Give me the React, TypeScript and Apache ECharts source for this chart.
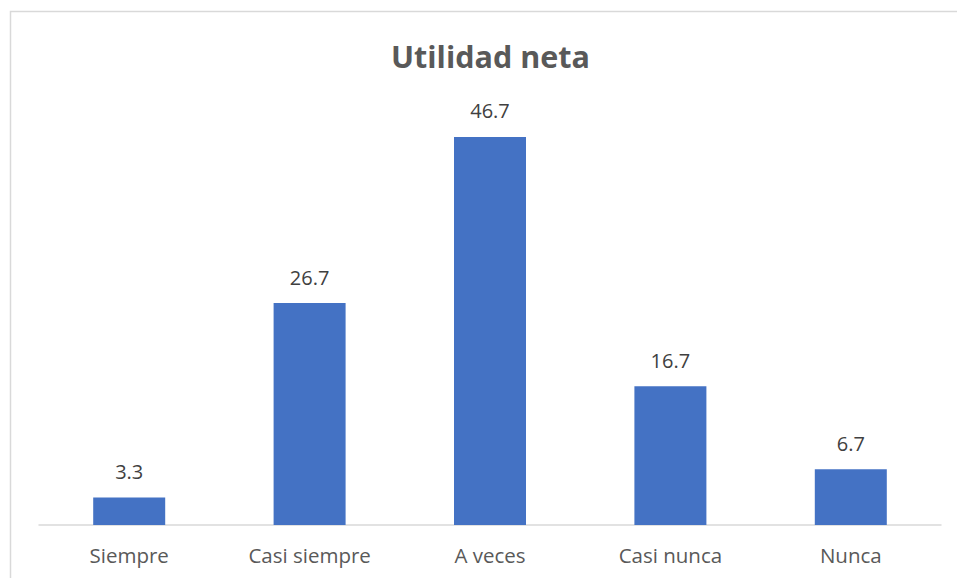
import React, { useEffect, useRef } from "react";
import * as echarts from "echarts";

const categories = ["Siempre", "Casi siempre", "A veces", "Casi nunca", "Nunca"];
const values = [3.3, 26.7, 46.7, 16.7, 6.7];
const titleText = "Utilidad neta";

export default function App() {
  const ref = useRef<HTMLDivElement>(null);
  useEffect(() => {
    if (!ref.current) return;
    const chart = echarts.init(ref.current, undefined, { renderer: "svg" });
    chart.setOption({
      animation: false,
      backgroundColor: "#ffffff",
      title: {
        text: titleText,
        left: 386,
        top: 35,
        textStyle: {
          fontFamily: "Open Sans",
          fontSize: 30.5,
          fontWeight: "bold",
          color: "#595959",
        },
      },
      graphic: [
        {
          type: "rect",
          shape: { x: 10.5, y: 11.5, width: 1000, height: 700 },
          style: { fill: "none", stroke: "#d9d9d9", lineWidth: 1.5 },
          silent: true,
        },
      ],
      grid: { left: 39, right: 16, top: 109.5, bottom: 53 },
      xAxis: {
        type: "category",
        data: categories,
        axisLine: { lineStyle: { color: "#d9d9d9", width: 1.5 } },
        axisTick: { show: false },
        axisLabel: {
          fontFamily: "Open Sans",
          fontSize: 20.5,
          color: "#595959",
          margin: 19,
        },
      },
      yAxis: {
        type: "value",
        min: 0,
        max: 50,
        show: false,
        splitLine: { show: false },
      },
      series: [
        {
          type: "bar",
          data: values,
          barWidth: 72,
          itemStyle: { color: "#4472c4" },
          label: {
            show: true,
            position: "top",
            distance: 16,
            fontFamily: "Open Sans",
            fontSize: 20,
            color: "#404040",
            formatter: (p: any) => p.value.toFixed(1),
          },
        },
      ],
    });
    return () => chart.dispose();
  }, []);
  return (
    <div
      ref={ref}
      style={{ position: "fixed", left: 0, top: 0, width: 957, height: 578 }}
    />
  );
}
